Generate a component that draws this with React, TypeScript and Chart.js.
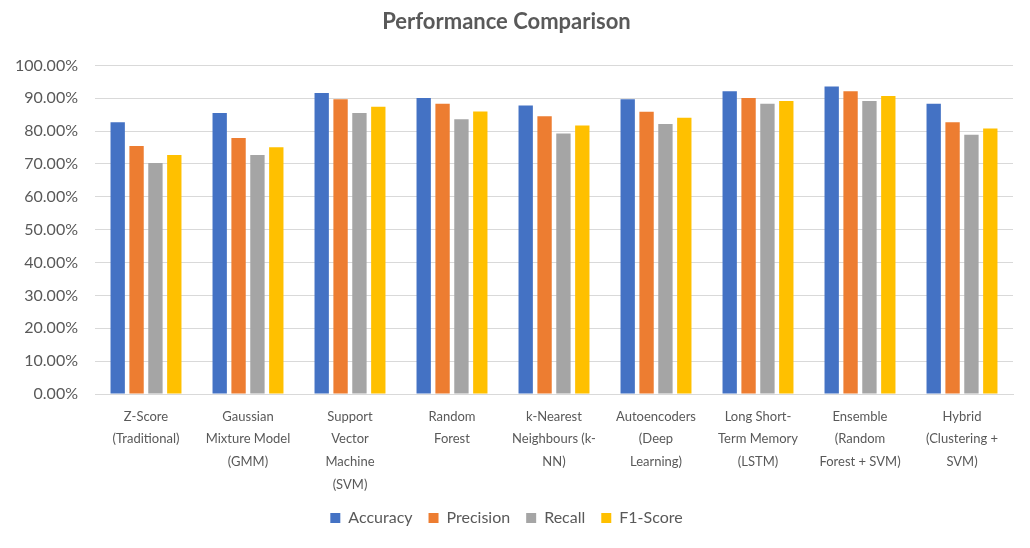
import React, { useEffect, useRef } from "react";
import { Chart, registerables } from "chart.js";

Chart.register(...registerables);

const categories: string[][] = [
  ["Z-Score", "(Traditional)"],
  ["Gaussian", "Mixture Model", "(GMM)"],
  ["Support", "Vector", "Machine", "(SVM)"],
  ["Random", "Forest"],
  ["k-Nearest", "Neighbours (k-", "NN)"],
  ["Autoencoders", "(Deep", "Learning)"],
  ["Long Short-", "Term Memory", "(LSTM)"],
  ["Ensemble", "(Random", "Forest + SVM)"],
  ["Hybrid", "(Clustering +", "SVM)"],
];

const accuracy = [82.7, 85.5, 91.6, 90.1, 87.8, 89.7, 92.1, 93.6, 88.3];
const precision = [75.5, 77.9, 89.7, 88.3, 84.5, 85.9, 90.1, 92.1, 82.7];
const recall = [70.3, 72.7, 85.5, 83.6, 79.3, 82.2, 88.3, 89.2, 78.9];
const f1Score = [72.7, 75.1, 87.4, 86.0, 81.7, 84.1, 89.2, 90.7, 80.8];

const seriesNames = ["Accuracy", "Precision", "Recall", "F1-Score"];
const seriesColors = ["#4472C4", "#ED7D31", "#A5A5A5", "#FFC000"];

const FONT = "Lato, 'Open Sans', sans-serif";
const TEXT = "#595959";

export default function App() {
  const ref = useRef<HTMLCanvasElement | null>(null);

  useEffect(() => {
    if (!ref.current) return;
    const values = [accuracy, precision, recall, f1Score];
    const chart = new Chart(ref.current, {
      type: "bar",
      data: {
        labels: categories,
        datasets: values.map((v, i) => ({
          label: seriesNames[i],
          data: v,
          backgroundColor: seriesColors[i],
          borderWidth: 0,
          categoryPercentage: 0.74,
          barPercentage: 0.76,
        })),
      },
      options: {
        animation: false,
        responsive: false,
        maintainAspectRatio: false,
        layout: { padding: { left: 0, right: 17, top: 8, bottom: 12 } },
        plugins: {
          title: {
            display: true,
            text: "Performance Comparison",
            color: TEXT,
            font: { family: FONT, size: 22, weight: "bold" },
            padding: { top: 1, bottom: 30 },
          },
          legend: {
            position: "bottom",
            labels: {
              color: TEXT,
              font: { family: FONT, size: 16 },
              boxWidth: 10,
              boxHeight: 10,
              padding: 16,
            },
          },
          tooltip: { enabled: false },
        },
        scales: {
          x: {
            grid: { display: false },
            border: { color: "#D9D9D9" },
            ticks: {
              color: TEXT,
              font: { family: FONT, size: 13, lineHeight: 1.75 },
              maxRotation: 0,
              autoSkip: false,
              padding: 3,
            },
            afterFit: (scale: any) => {
              scale.height = 100;
            },
          },
          y: {
            min: 0,
            max: 100,
            border: { display: false },
            grid: { color: "#D9D9D9", drawTicks: false },
            ticks: {
              stepSize: 10,
              color: TEXT,
              font: { family: FONT, size: 16 },
              padding: 17,
              callback: (v: any) => Number(v).toFixed(2) + "%",
            },
            afterFit: (scale: any) => {
              scale.width = 95;
            },
          },
        },
      },
    });
    return () => chart.destroy();
  }, []);

  return (
    <div style={{ position: "absolute", left: 0, top: 0, width: 1030, height: 548, background: "#fff" }}>
      <canvas ref={ref} width={1030} height={548} style={{ display: "block" }} />
    </div>
  );
}
